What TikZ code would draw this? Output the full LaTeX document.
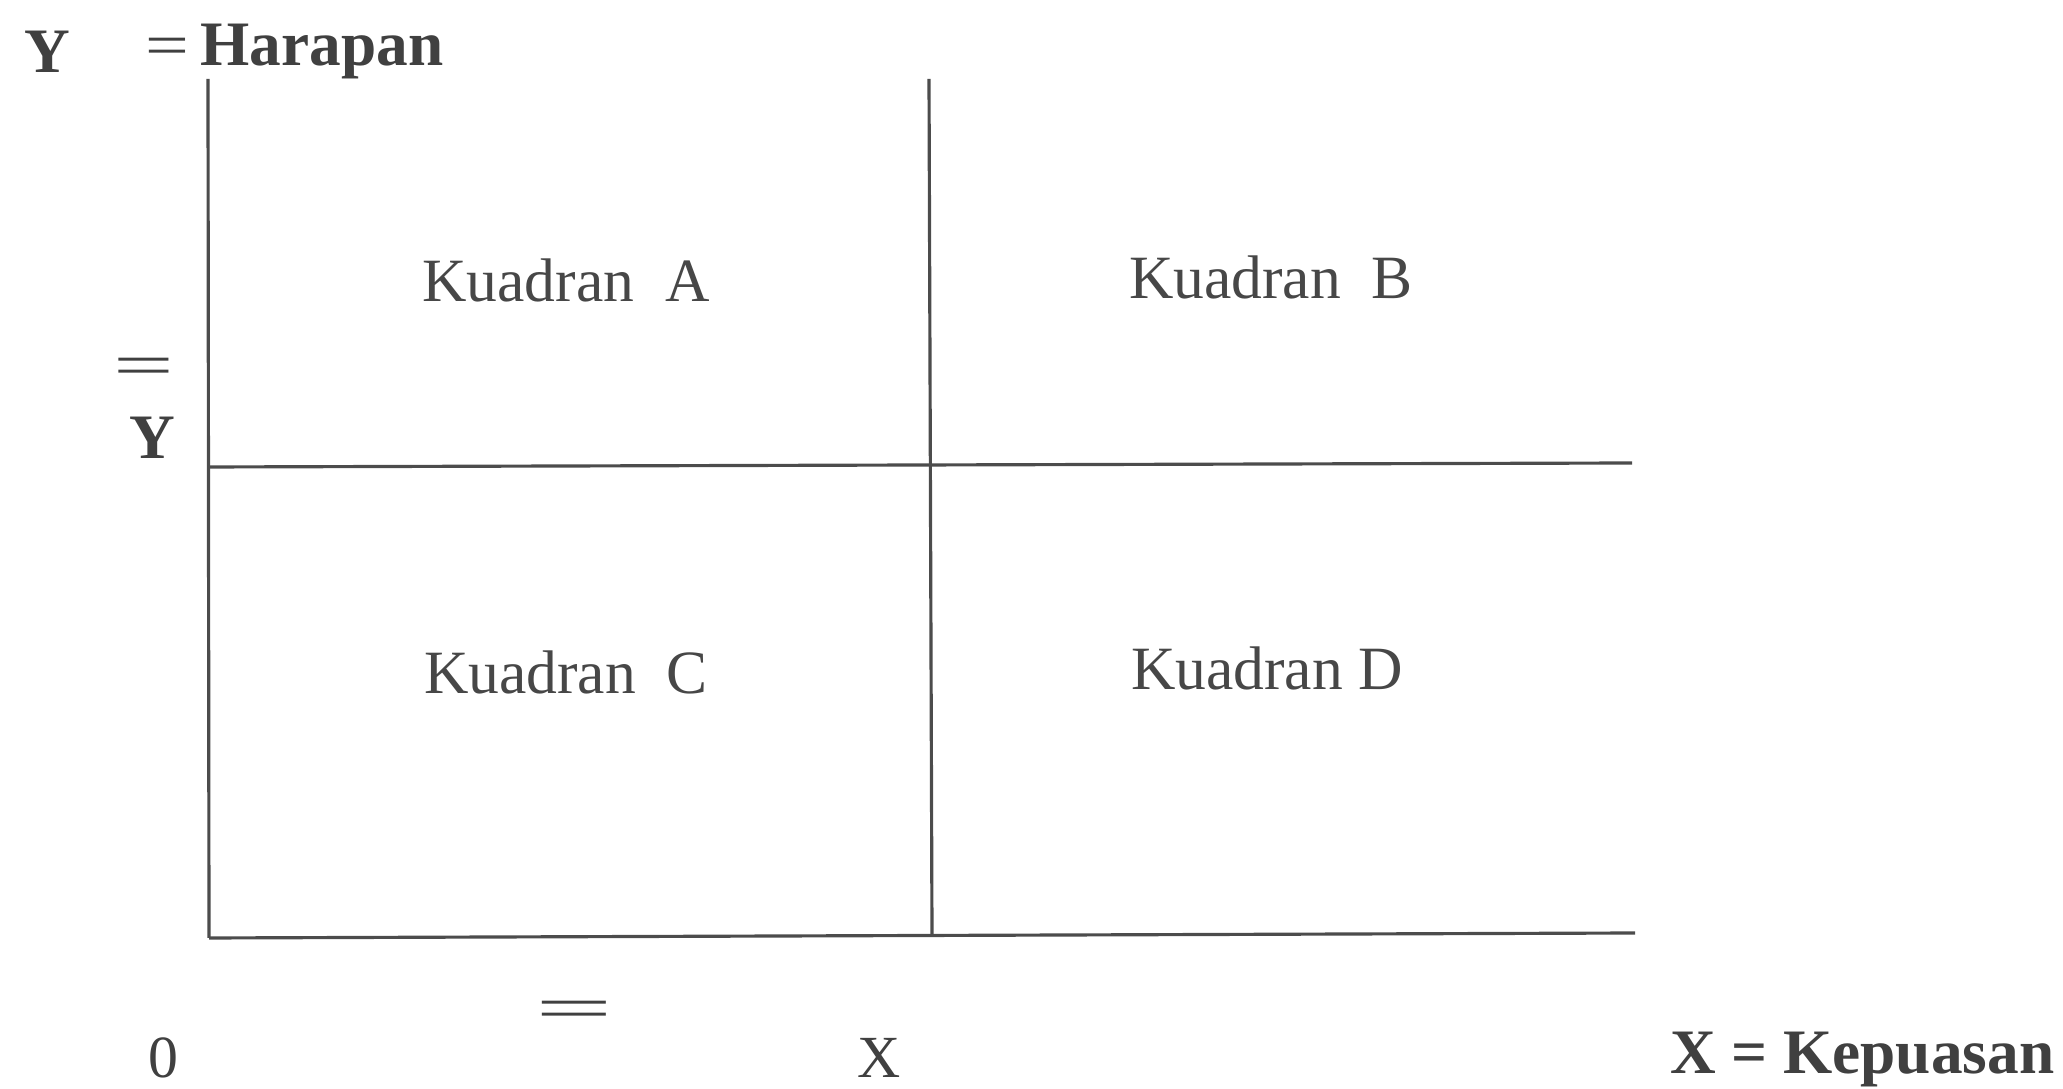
\documentclass[tikz,border=0pt]{standalone}
\usepackage{fontspec}
\setmainfont{Liberation Serif}
\begin{document}
\begin{tikzpicture}[x=0.01cm,y=-0.01cm,
  gridline/.style={draw=black!70,line width=0.9pt},
  quad/.style={text=black!72,font=\fontsize{17.5}{20}\selectfont,inner sep=0pt},
  axlab/.style={text=black!75,font=\bfseries\fontsize{18}{21}\selectfont,inner sep=0pt},
  plain/.style={text=black!75,font=\fontsize{17}{20}\selectfont,inner sep=0pt}]
\useasboundingbox (0,0) rectangle (2063,1089);
% grid coordinates
\coordinate (tl) at (208,79);
\coordinate (bl) at (209,938);
\coordinate (tm) at (929,79);
\coordinate (bm) at (932,934);
\coordinate (ml) at (208,467);
\coordinate (mr) at (1632,463);
\coordinate (br) at (1635,933);
\draw[gridline] (tl) -- (bl);
\draw[gridline] (tm) -- (bm);
\draw[gridline] (ml) -- (mr);
\draw[gridline] (bl) -- (br);
% quadrant labels
\node[quad] (qa) at (566,280) {Kuadran\ \ A};
\node[quad] (qb) at (1271,277) {Kuadran\ \ B};
\node[quad] (qc) at (566,672) {Kuadran\ \ C};
\node[quad] (qd) at (1267,668) {Kuadran D};
% axis labels
\node[axlab,anchor=west] (ytop) at (24,52) {Y};
\node[plain,anchor=west] (yeq) at (145,52) {\scalebox{1.3}[1]{=}};
\node[axlab,anchor=west] (yname) at (200,52) {Harapan};
\node[plain] (ybareq) at (144,372) {\scalebox{1.8}[1]{=}};
\node[axlab] (ybar) at (152,438) {Y};
\node[plain] (xbareq) at (574,1015) {\scalebox{2.3}[1]{=}};
\node[plain] (zero) at (163,1058) {0};
\node[plain] (xbar) at (879,1058) {X};
\node[axlab,anchor=east] (xname) at (2055,1060) {X = Kepuasan};
\end{tikzpicture}
\end{document}
